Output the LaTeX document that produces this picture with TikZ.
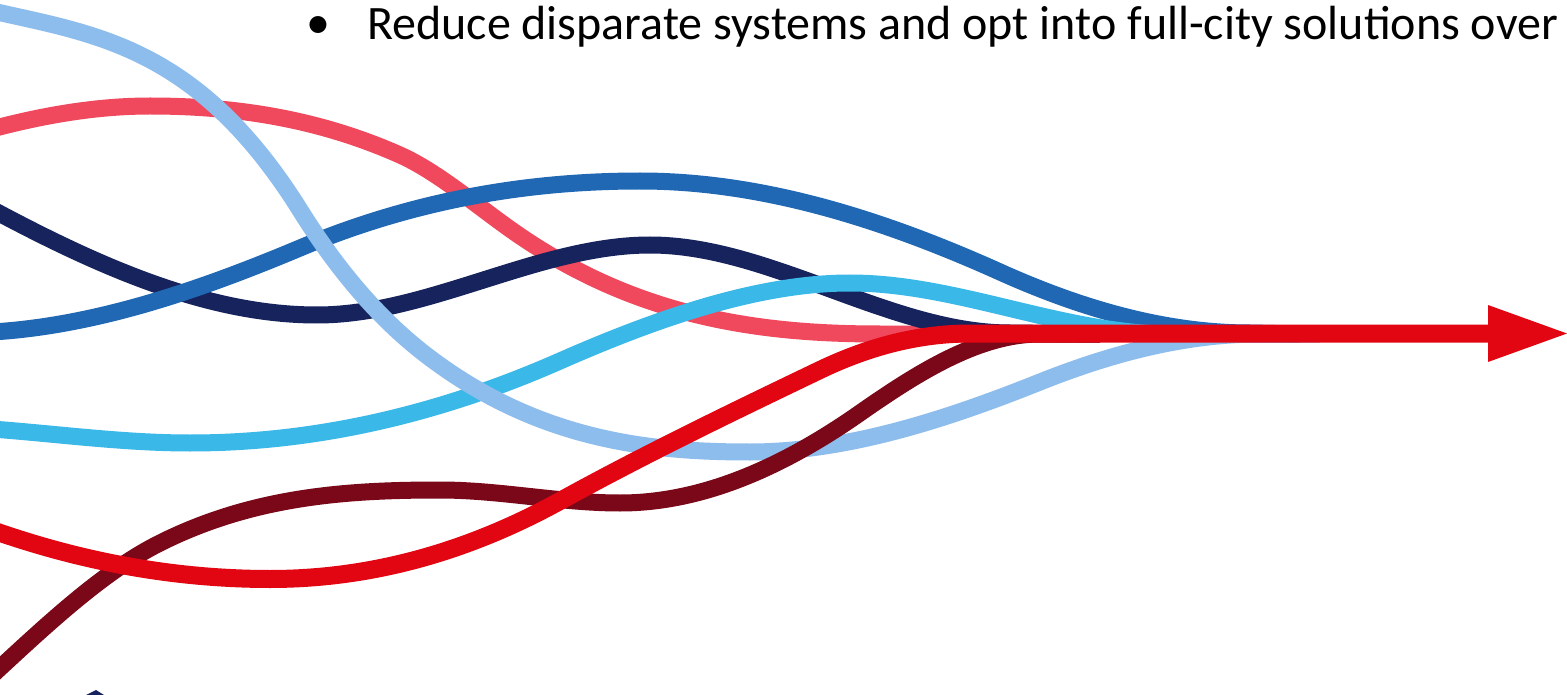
\documentclass[tikz,border=0pt]{standalone}
\usepackage{fontspec}
\setmainfont{Carlito}
\definecolor{lblue}{HTML}{8DBDEC}
\definecolor{pinkred}{HTML}{F0485C}
\definecolor{navy}{HTML}{16235C}
\definecolor{mblue}{HTML}{2068B4}
\definecolor{cyanb}{HTML}{3AB8E8}
\definecolor{darkred}{HTML}{7A0818}
\definecolor{brightred}{HTML}{E20613}
\tikzset{
  strand/.style={line width=17pt, line join=round},
  mainstrand/.style={line width=18pt, line join=round, draw=brightred},
  bodytext/.style={inner sep=0pt, font=\fontsize{48}{52}\selectfont},
}
\begin{document}
\begin{tikzpicture}[x=1pt,y=-1pt]
\useasboundingbox (0,0) rectangle (1567,695);
\fill[white] (0,0) rectangle (1567,695);
\begin{scope}
\clip (0,0) rectangle (1567,695);
% pink
\draw[strand, draw=pinkred] (-40,138) .. controls (23.3,119) and (86.7,106) .. (150,106)
  .. controls (233.3,106) and (316.7,118) .. (400,155)
  .. controls (440,173) and (480,208.8) .. (520,236)
  .. controls (640,317.6) and (760,334) .. (880,334) -- (1100,334);
% navy
\draw[strand, draw=navy] (-40,192) .. controls (79,257.5) and (198,315) .. (317,315)
  .. controls (428,315) and (539,245) .. (650,245)
  .. controls (770,245) and (890,333) .. (1010,333) -- (1100,334);
% medium blue
\draw[strand, draw=mblue] (-40,333) .. controls (73.3,333) and (186.7,295.6) .. (300,248)
  .. controls (413.3,200.4) and (526.7,181) .. (640,181)
  .. controls (760,181) and (880,218) .. (1000,272)
  .. controls (1083.3,309.5) and (1166.7,333) .. (1250,333) -- (1300,334);
% cyan
\draw[strand, draw=cyanb] (-40,427) .. controls (36.7,430.8) and (113.3,443) .. (190,443)
  .. controls (313.3,443) and (436.7,415.3) .. (560,361)
  .. controls (660,317) and (760,283) .. (850,283)
  .. controls (956.7,283) and (1063.3,334) .. (1170,334) -- (1300,334);
% light blue
\draw[strand, draw=lblue] (-40,3) .. controls (73.3,33.6) and (186.7,29) .. (300,210)
  .. controls (343.3,279.3) and (386.7,325.5) .. (430,358)
  .. controls (540,440.5) and (650,452) .. (750,452)
  .. controls (846.7,452) and (946.7,419.3) .. (1040,382)
  .. controls (1113.3,352.7) and (1186.7,334) .. (1260,334) -- (1320,334);
% dark red
\draw[strand, draw=darkred] (-25,691) .. controls (36.7,634.3) and (98.3,573.8) .. (160,543)
  .. controls (253.3,496.3) and (346.7,490) .. (440,490)
  .. controls (500,490) and (560,503) .. (620,503)
  .. controls (700,503) and (780,469) .. (860,413)
  .. controls (920,371) and (980,334) .. (1040,334) -- (1100,334);
% bright red main arrow
\draw[mainstrand] (-30,522) .. controls (70,560) and (170,579) .. (270,579)
  .. controls (366.7,579) and (463.3,554.2) .. (560,501)
  .. controls (646.7,453.3) and (733.3,411.6) .. (820,370)
  .. controls (870,346) and (920,333.5) .. (970,333.5) -- (1492,333.5);
\fill[brightred] (1488,305) -- (1567,333.5) -- (1488,362) -- cycle;
% small sliver at bottom
\fill[navy] (86,695) -- (96,690) -- (104,695) -- cycle;
\end{scope}
\node[bodytext, anchor=center] (bullet) at (318,28) {•};
\node[bodytext, anchor=base west] (txt) at (367,40) {Reduce disparate systems and opt into full-city solutions over};
\end{tikzpicture}
\end{document}
